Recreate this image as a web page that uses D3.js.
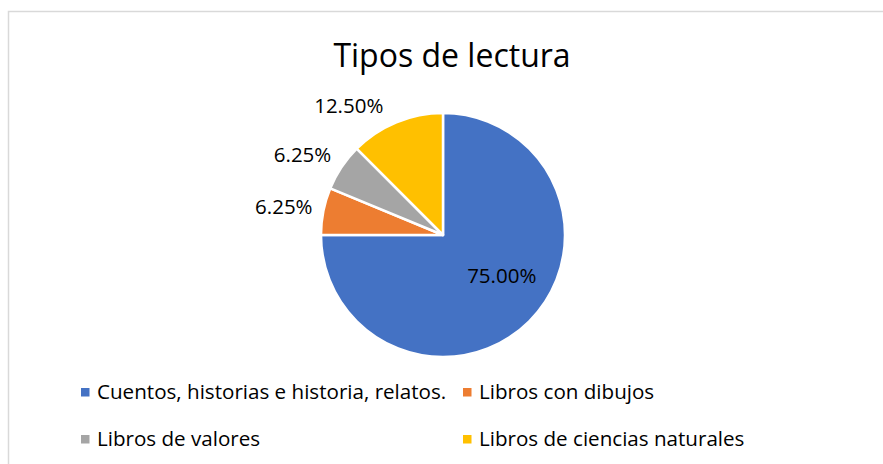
<!DOCTYPE html>
<html><head><meta charset="utf-8">
<script src="https://cdn.jsdelivr.net/npm/d3@7"></script>
<style>body{margin:0;background:#fff}svg{display:block}text{font-family:"Open Sans",Lato,sans-serif;fill:#000}</style>
</head><body>
<svg id="c" width="883" height="464"></svg>
<script>
const title = "Tipos de lectura";
const categories = ["Cuentos, historias e historia, relatos.", "Libros con dibujos", "Libros de valores", "Libros de ciencias naturales"];
const values = [75.00, 6.25, 6.25, 12.50];
const labels = ["75.00%", "6.25%", "6.25%", "12.50%"];
const colors = ["#4472C4", "#ED7D31", "#A5A5A5", "#FFC000"];

const svg = d3.select("#c");
svg.append("rect").attr("x", 8.5).attr("y", 11.5).attr("width", 900).attr("height", 500)
  .attr("fill", "#fff").attr("stroke", "#d9d9d9").attr("stroke-width", 1.5);

svg.append("text").attr("x", 452).attr("y", 67).attr("text-anchor", "middle")
  .attr("font-size", 32).text(title);

const cx = 443, cy = 235, r = 122;
const pie = d3.pie().sort(null).value(d => d)(values);
const arc = d3.arc().innerRadius(0).outerRadius(r);
const g = svg.append("g").attr("transform", `translate(${cx},${cy})`);
g.selectAll("path").data(pie).join("path")
  .attr("d", arc).attr("fill", (d, i) => colors[i])
  .attr("stroke", "#fff").attr("stroke-width", 2.5).attr("stroke-linejoin", "round");

const labelSize = 20.5, lh = 14;
g.selectAll("text.lab").data(pie).join("text").attr("class", "lab")
  .attr("font-size", labelSize)
  .each(function (d, i) {
    const a = (d.startAngle + d.endAngle) / 2;
    const dx = Math.sin(a), dy = -Math.cos(a);
    const t = d3.select(this).text(labels[i]).attr("dominant-baseline", "central");
    if (d.endAngle - d.startAngle > Math.PI) {
      const R = r * 0.6;
      t.attr("text-anchor", "middle").attr("x", dx * R + 7).attr("y", dy * R - 12);
    } else {
      const R = r + 11;
      const px = dx * R + Math.sign(dx) * 12 * Math.pow(Math.abs(dy), 4), py = dy * R;
      const f = Math.min(1, Math.abs(dy) * 2) * Math.sign(dy);
      t.attr("text-anchor", dx < 0 ? "end" : "start")
        .attr("x", px).attr("y", py + f * lh / 2);
    }
  });

const legPos = [[81, 392], [463, 392], [81, 439], [463, 439]];
const lg = svg.append("g");
categories.forEach((c, i) => {
  const [x, y] = legPos[i];
  lg.append("rect").attr("x", x).attr("y", y - 4).attr("width", 8.5).attr("height", 8.5).attr("fill", colors[i]);
  lg.append("text").attr("x", x + 16).attr("y", y).attr("dy", "0.36em").attr("font-size", 20.6).text(c);
});
</script>
</body></html>
